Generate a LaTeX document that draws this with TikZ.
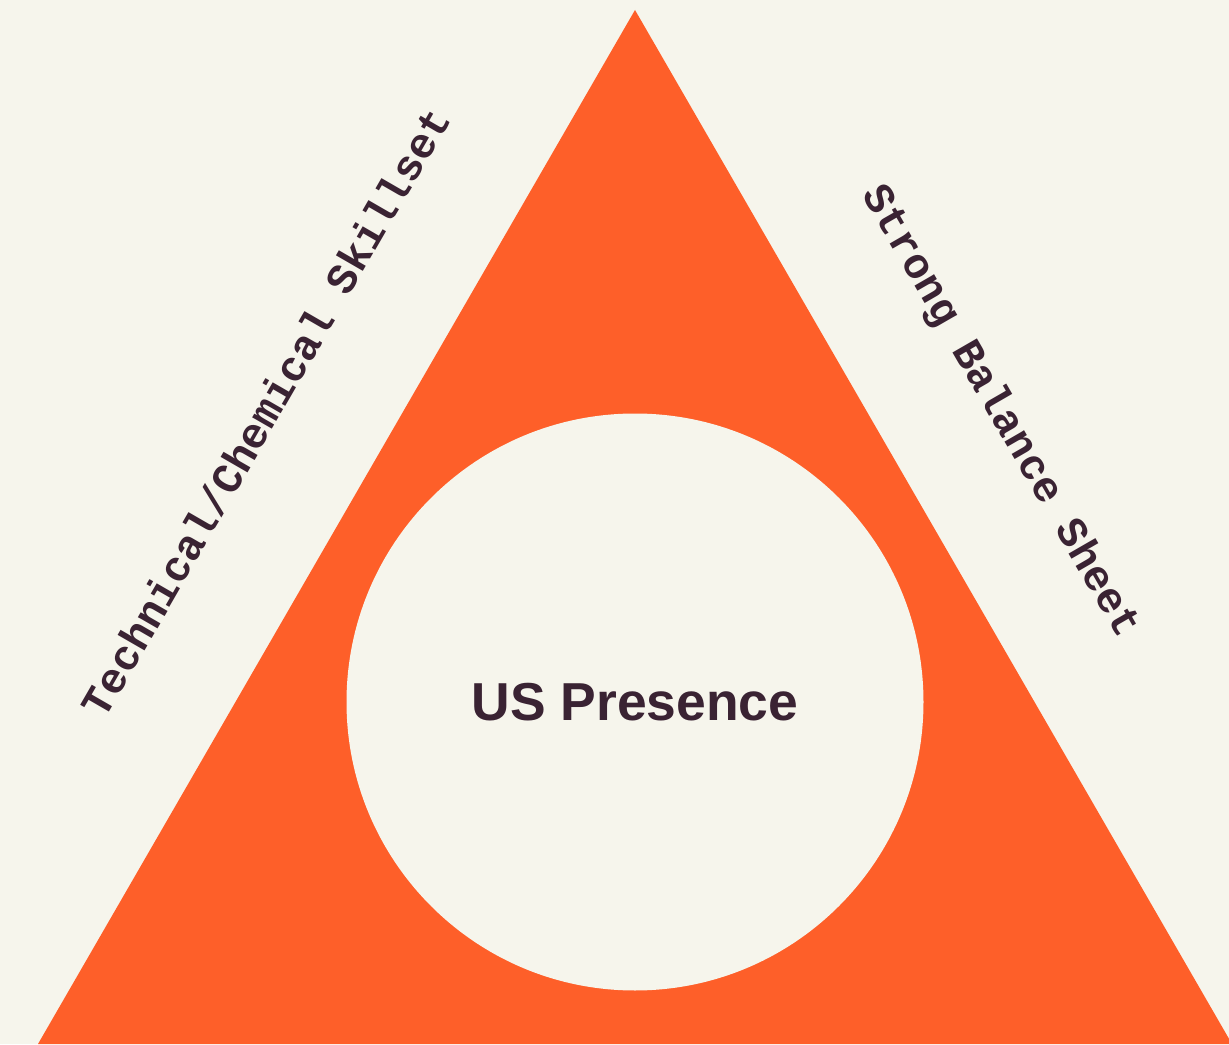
\documentclass[tikz,border=0pt]{standalone}
\usepackage{fontspec}
\setmainfont{Liberation Sans}
\newfontfamily\edgefont{Liberation Mono}
\usetikzlibrary{calc}
\definecolor{PaperBG}{HTML}{F6F5EC}
\definecolor{TriOrange}{HTML}{FE5F29}
\definecolor{InkPlum}{HTML}{3A2333}

\begin{document}
\begin{tikzpicture}[scale=1]
  % --- canvas ---
  \useasboundingbox (0,0) rectangle (12.29,10.44);
  \clip (0,0) rectangle (12.29,10.44);
  \fill[PaperBG] (0,0) rectangle (12.29,10.44);

  % --- Triangle ---
  \coordinate (apex) at (6.35,10.34);
  \coordinate (bl)   at (0.38,0);
  \coordinate (br)   at (12.32,0);
  \fill[TriOrange] (apex) -- (bl) -- (br) -- cycle;

  % --- Inner circle with centre label ---
  \node[circle,fill=PaperBG,minimum size=5.77cm,inner sep=0pt,
        font=\fontsize{15.2}{16}\selectfont\bfseries,text=InkPlum]
    (core) at (6.35,3.42) {US Presence};

  % --- Side labels ---
  \node[font=\edgefont\fontsize{12.2}{13}\selectfont\bfseries,text=InkPlum,
        rotate=60] (skills) at (2.65,6.32) {Technical/Chemical Skillset};
  \node[font=\edgefont\fontsize{12.2}{13}\selectfont\bfseries,text=InkPlum,
        rotate=-60] (sheet) at (10.0,6.32) {Strong Balance Sheet};
\end{tikzpicture}
\end{document}
